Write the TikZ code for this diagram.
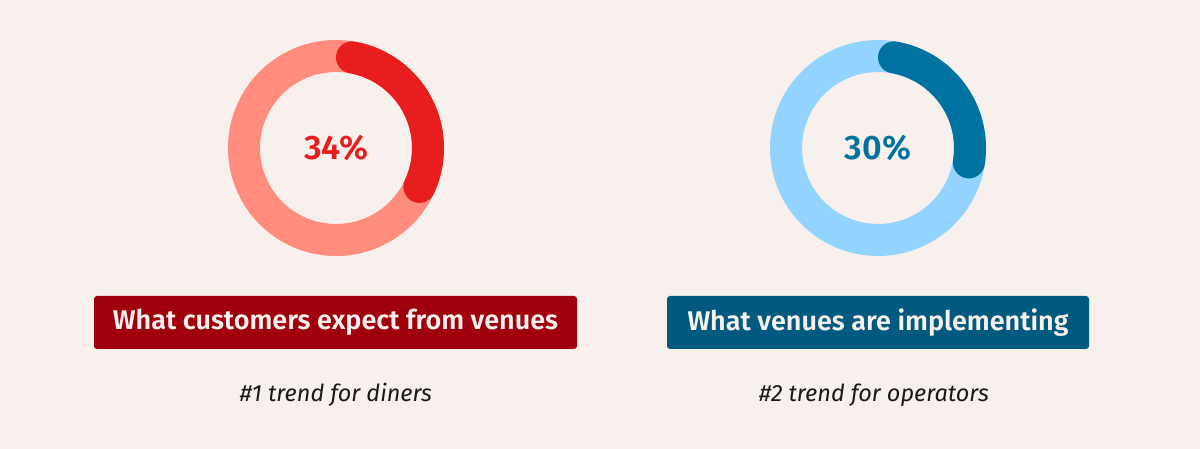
\documentclass[tikz,border=0pt]{standalone}
\usepackage{fontspec}
\setmainfont{Fira Sans}[BoldFont={Fira Sans SemiBold}]
\usetikzlibrary{calc}
\definecolor{bg}{HTML}{F7F0EC}
\definecolor{redlight}{HTML}{FF8C7C}
\definecolor{reddark}{HTML}{E81E1E}
\definecolor{bluelight}{HTML}{92D3FF}
\definecolor{bluedark}{HTML}{0072A0}
\definecolor{boxred}{HTML}{A0000B}
\definecolor{boxblue}{HTML}{005A80}
\definecolor{ink}{HTML}{1A1A1A}
\tikzset{
  ring/.style={line width=32pt},
  pct/.style={font=\fontsize{34}{40}\selectfont\bfseries},
  tagbox/.style={rounded corners=3pt, minimum height=53pt, text=bg, inner sep=0pt,
    font=\fontsize{27}{32}\selectfont\bfseries},
  note/.style={font=\fontsize{23.5}{28}\selectfont\itshape, text=ink}
}
\begin{document}
\begin{tikzpicture}[x=1pt,y=1pt]
\fill[bg] (0,0) rectangle (1200,449);
\useasboundingbox (0,0) rectangle (1200,449);
% left donut
\coordinate (cL) at (336,301);
\draw[ring, redlight] (cL) circle[radius=92];
\draw[ring, reddark, line cap=round] ($(cL)+(80:92)$) arc[start angle=80, end angle=-25, radius=92];
\node[pct, text=reddark] (pL) at (cL) {34\%};
% right donut
\coordinate (cR) at (878,301);
\draw[ring, bluelight] (cR) circle[radius=92];
\draw[ring, bluedark, line cap=round] ($(cR)+(80:92)$) arc[start angle=80, end angle=-9, radius=92];
\node[pct, text=bluedark] (pR) at (cR) {30\%};
% boxes
\node[tagbox, fill=boxred, minimum width=483pt] (bL) at (335.5,126.5) {What customers expect from venues};
\node[tagbox, fill=boxblue, minimum width=422pt] (bR) at (878,126.5) {What venues are implementing};
% notes
\node[note] (nL) at (336,54) {\#1 trend for diners};
\node[note] (nR) at (874,54) {\#2 trend for operators};
\end{tikzpicture}
\end{document}
